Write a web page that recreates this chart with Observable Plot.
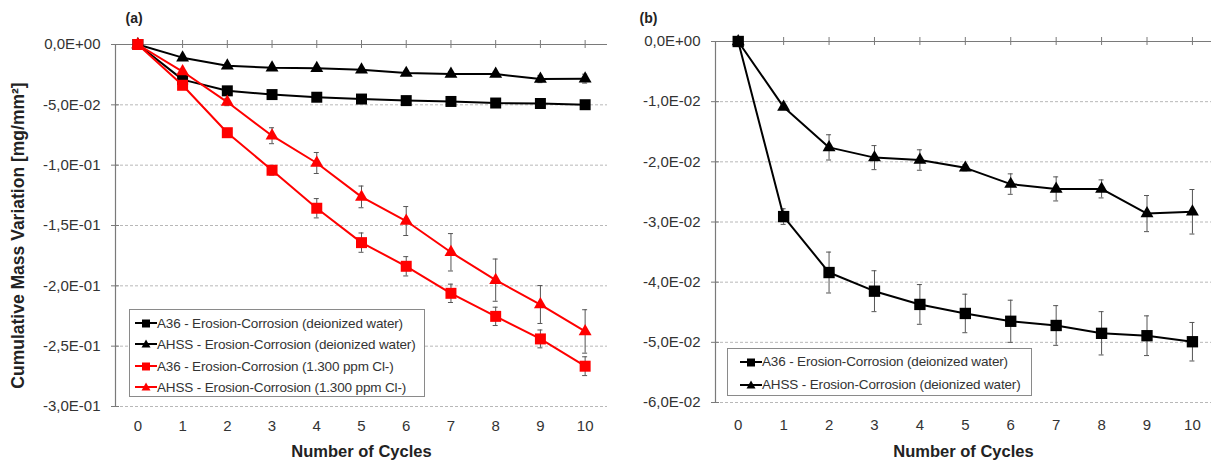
<!DOCTYPE html>
<html>
<head>
<meta charset="utf-8">
<script src="https://cdn.jsdelivr.net/npm/d3@7"></script>
<script src="https://cdn.jsdelivr.net/npm/@observablehq/plot@0.6"></script>
<style>
  html, body { margin: 0; padding: 0; background: #fff; }
  #wrap { position: relative; width: 1211px; height: 461px; background: #fff; overflow: hidden;
          font-family: "Liberation Sans", Arial, sans-serif; }
  .panel { position: absolute; top: 0; }
  .legend { position: absolute; border: 1px solid #8a8a8a; background: #fff; box-sizing: border-box; }
  .row { position: absolute; left: 0; height: 16px; display: flex; align-items: center; white-space: nowrap;
         font-size: 13.5px; color: #333; letter-spacing: -0.15px; }
  .row svg { flex: none; }
</style>
</head>
<body>
<div id="wrap">
  <div id="pa" class="panel" style="left:0px"></div>
  <div id="pb" class="panel" style="left:611px"></div>
</div>
<script>
// ---------- data ----------
const cycles = [0, 1, 2, 3, 4, 5, 6, 7, 8, 9, 10];

const a36Water     = [0, -0.0291, -0.0384, -0.0415, -0.0437, -0.0452, -0.0465, -0.0472, -0.0485, -0.0489, -0.0499];
const a36WaterErr  = [0, 0.0013, 0.0034, 0.0034, 0.0033, 0.0032, 0.0035, 0.0033, 0.0036, 0.0033, 0.0032];
const ahssWater    = [0, -0.0109, -0.0176, -0.0193, -0.0197, -0.0210, -0.0237, -0.0245, -0.0245, -0.0286, -0.0283];
const ahssWaterErr = [0, 0.0004, 0.0021, 0.0020, 0.0017, 0.0005, 0.0017, 0.0020, 0.0015, 0.0030, 0.0037];
const a36Cl        = [0, -0.0338, -0.0731, -0.1042, -0.1357, -0.1642, -0.1838, -0.2062, -0.2253, -0.2440, -0.2666];
const a36ClErr     = [0, 0.0020, 0.0030, 0.0040, 0.0080, 0.0080, 0.0080, 0.0076, 0.0076, 0.0074, 0.0078];
const ahssCl       = [0, -0.0224, -0.0477, -0.0756, -0.0982, -0.1263, -0.1463, -0.1722, -0.1953, -0.2155, -0.2378];
const ahssClErr    = [0, 0.0020, 0.0030, 0.0066, 0.0087, 0.0090, 0.0120, 0.0155, 0.0175, 0.0157, 0.0180];

const seriesNames = [
  "A36 - Erosion-Corrosion (deionized water)",
  "AHSS - Erosion-Corrosion (deionized water)",
  "A36 - Erosion-Corrosion (1.300 ppm Cl-)",
  "AHSS - Erosion-Corrosion (1.300 ppm Cl-)"
];

const yTicksA  = [0, -0.05, -0.10, -0.15, -0.20, -0.25, -0.30];
const yLabelsA = ["0,0E+00", "-5,0E-02", "-1,0E-01", "-1,5E-01", "-2,0E-01", "-2,5E-01", "-3,0E-01"];
const yTicksB  = [0, -0.01, -0.02, -0.03, -0.04, -0.05, -0.06];
const yLabelsB = ["0,0E+00", "-1,0E-02", "-2,0E-02", "-3,0E-02", "-4,0E-02", "-5,0E-02", "-6,0E-02"];

const xTitle = "Number of Cycles";
const yTitle = "Cumulative Mass Variation [mg/mm²]";

// ---------- build ----------
const BLACK = "#000000", RED = "#ff0000";
function mk(name, values, err, color, symbol) {
  return {name, color, symbol, rows: cycles.map((c, i) => ({cycle: c, v: values[i], e: err[i]}))};
}
const sA36W  = mk(seriesNames[0], a36Water, a36WaterErr, BLACK, "square");
const sAHSSW = mk(seriesNames[1], ahssWater, ahssWaterErr, BLACK, "triangle");
const sA36C  = mk(seriesNames[2], a36Cl, a36ClErr, RED, "square");
const sAHSSC = mk(seriesNames[3], ahssCl, ahssClErr, RED, "triangle");

const FONT = "'Liberation Sans', Arial, sans-serif";

function panel(opts) {
  const {series, ticks, labels, width, marginLeft, marginRight, marginTop, marginBottom,
         xDomain, tag, tagDx, tagDy, xPad, titleDy, yTitleDx, sq, tri} = opts;
  const yMin = ticks[ticks.length - 1];
  const axisCol = "#7a7a7a";
  const marks = [
    Plot.ruleY(ticks.filter(t => t !== 0), {y: d => d, x1: xDomain[0], x2: xDomain[1],
      stroke: "#b8b8b8", strokeWidth: 1, strokeDasharray: "3,2"}),
    Plot.ruleX([xDomain[0]], {x: d => d, y1: 0, y2: yMin, stroke: axisCol, strokeWidth: 1.2}),
    Plot.ruleY([0], {y: d => d, x1: xDomain[0], x2: xDomain[1], stroke: axisCol, strokeWidth: 1.2}),
    Plot.ruleY(ticks, {y: d => d, x1: xDomain[0], x2: xDomain[0], insetLeft: -4, insetRight: -4, stroke: axisCol}),
    Plot.ruleX(cycles, {x: d => d, y1: 0, y2: 0, insetTop: -4, insetBottom: -4, stroke: axisCol})
  ];
  for (const s of series) {
    const withErr = s.rows.filter(d => d.e > 0);
    marks.push(
      Plot.ruleX(withErr, {x: "cycle", y1: d => d.v - d.e, y2: d => d.v + d.e, stroke: "#555", strokeWidth: 1}),
      Plot.ruleY(withErr, {y: d => d.v + d.e, x1: "cycle", x2: "cycle", insetLeft: -2.5, insetRight: -2.5, stroke: "#555"}),
      Plot.ruleY(withErr, {y: d => d.v - d.e, x1: "cycle", x2: "cycle", insetLeft: -2.5, insetRight: -2.5, stroke: "#555"}),
      Plot.line(s.rows, {x: "cycle", y: "v", stroke: s.color, strokeWidth: 2}),
      Plot.dot(s.rows, {x: "cycle", y: "v", symbol: s.symbol, r: s.symbol === "square" ? sq : tri,
        fill: s.color, stroke: "none"})
    );
  }
  marks.push(
    Plot.axisY({ticks, tickFormat: d => labels[ticks.indexOf(d)], tickSize: 0, tickPadding: 15,
      fontSize: 15, label: null}),
    Plot.axisX({ticks: cycles, tickFormat: d => String(d), tickSize: 0, tickPadding: xPad,
      fontSize: 15, label: null}),
    Plot.text([xTitle], {text: d => d, frameAnchor: "bottom", dy: titleDy, lineAnchor: "middle",
      fontWeight: "bold", fontSize: 16.5, fill: "#222"}),
    Plot.text([tag], {text: d => d, frameAnchor: "top-left", dx: tagDx, dy: tagDy, textAnchor: "start",
      lineAnchor: "middle", fontWeight: "bold", fontSize: 14, fill: "#222"})
  );
  if (yTitleDx !== undefined) {
    marks.push(Plot.text([yTitle], {text: d => d, frameAnchor: "left", dx: yTitleDx, dy: 10, rotate: -90,
      lineAnchor: "middle", textAnchor: "middle", fontWeight: "bold", fontSize: 17.5, fill: "#222"}));
  }
  return Plot.plot({
    width, height: 461, marginLeft, marginRight, marginTop, marginBottom,
    x: {type: "linear", domain: xDomain},
    y: {type: "linear", domain: [yMin, 0]},
    style: {fontFamily: FONT, color: "#333", background: "#fff", overflow: "visible"},
    marks
  });
}

document.getElementById("pa").appendChild(panel({
  series: [sA36W, sAHSSW, sA36C, sAHSSC], ticks: yTicksA, labels: yLabelsA,
  width: 611, marginLeft: 115, marginRight: 4, marginTop: 44, marginBottom: 55,
  xDomain: [-0.5, 10.5], tag: "(a)", tagDx: 10, tagDy: -26, xPad: 14, titleDy: 45, yTitleDx: -97,
  sq: 6.2, tri: 4.8
}));
document.getElementById("pb").appendChild(panel({
  series: [sA36W, sAHSSW], ticks: yTicksB, labels: yLabelsB,
  width: 600, marginLeft: 104, marginRight: 0, marginTop: 41, marginBottom: 59,
  xDomain: [-0.5, 10.42], tag: "(b)", tagDx: -76, tagDy: -23, xPad: 17, titleDy: 49,
  sq: 6.4, tri: 4.8
}));

// ---------- legends ----------
function legend(series, left, top, w, h, rowCenters, padLeft) {
  const box = document.createElement("div");
  box.className = "legend";
  Object.assign(box.style, {left: left + "px", top: top + "px", width: w + "px", height: h + "px"});
  series.forEach((s, i) => {
    const row = document.createElement("div");
    row.className = "row";
    row.style.top = (rowCenters[i] - 8) + "px";
    row.style.left = padLeft + "px";
    const ns = "http://www.w3.org/2000/svg";
    const svg = document.createElementNS(ns, "svg");
    svg.setAttribute("width", 22); svg.setAttribute("height", 12);
    const ln = document.createElementNS(ns, "line");
    ln.setAttribute("x1", 0); ln.setAttribute("x2", 22); ln.setAttribute("y1", 6); ln.setAttribute("y2", 6);
    ln.setAttribute("stroke", s.color); ln.setAttribute("stroke-width", 2);
    svg.appendChild(ln);
    const p = document.createElementNS(ns, "path");
    p.setAttribute("d", s.symbol === "square" ? "M7,2.5H15V10.5H7Z" : "M11,1.5L15.5,9.5H6.5Z");
    p.setAttribute("fill", s.color);
    svg.appendChild(p);
    const t = document.createElement("span");
    t.textContent = s.name;
    row.appendChild(svg); row.appendChild(t);
    box.appendChild(row);
  });
  document.getElementById("wrap").appendChild(box);
}
legend([sA36W, sAHSSW, sA36C, sAHSSC], 129, 309, 296, 88, [13, 34, 56, 77], 5);
legend([sA36W, sAHSSW], 727, 348, 305, 48, [12.5, 35.5], 12);
</script>
</body>
</html>
